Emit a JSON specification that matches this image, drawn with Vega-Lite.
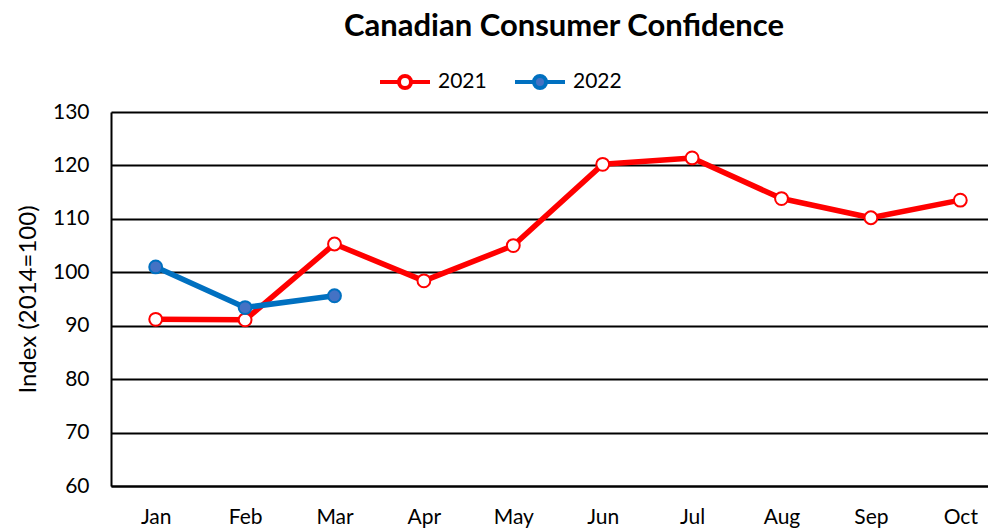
{
  "$schema": "https://vega.github.io/schema/vega-lite/v6.json",
  "width": 894,
  "height": 374,
  "autosize": "none",
  "padding": {"left": 111, "top": 112, "right": 0, "bottom": 45},
  "background": "white",
  "title": {"text": "Canadian Consumer Confidence", "font": "Lato", "fontSize": 31, "fontWeight": "bold", "color": "black", "offset": 12, "dx": 6},
  "data": {"values": [
    {"month": "Jan", "year": "2021", "value": 91.2},
    {"month": "Feb", "year": "2021", "value": 91.1},
    {"month": "Mar", "year": "2021", "value": 105.3},
    {"month": "Apr", "year": "2021", "value": 98.4},
    {"month": "May", "year": "2021", "value": 105.0},
    {"month": "Jun", "year": "2021", "value": 120.2},
    {"month": "Jul", "year": "2021", "value": 121.4},
    {"month": "Aug", "year": "2021", "value": 113.8},
    {"month": "Sep", "year": "2021", "value": 110.2},
    {"month": "Oct", "year": "2021", "value": 113.5},
    {"month": "Jan", "year": "2022", "value": 101.0},
    {"month": "Feb", "year": "2022", "value": 93.4},
    {"month": "Mar", "year": "2022", "value": 95.6}
  ]},
  "encoding": {
    "x": {"field": "month", "type": "ordinal",
      "scale": {"type": "point", "padding": 0.5, "domain": ["Jan","Feb","Mar","Apr","May","Jun","Jul","Aug","Sep","Oct"]},
      "axis": {"title": null, "labelAngle": 0, "ticks": false, "grid": false, "domainColor": "black", "domainWidth": 2, "labelFont": "Lato", "labelFontSize": 21, "labelColor": "black", "labelPadding": 20}},
    "y": {"field": "value", "type": "quantitative",
      "scale": {"domain": [60, 130], "zero": false, "nice": false},
      "axis": {"title": "Index (2014=100)", "titleFont": "Lato", "titleFontSize": 24, "titleFontWeight": "normal", "titleColor": "black", "titlePadding": 12,
        "values": [60,70,80,90,100,110,120,130], "ticks": false, "grid": true, "gridColor": "black", "gridWidth": 1.8, "gridOpacity": 1,
        "domainColor": "black", "domainWidth": 2, "labelFont": "Lato", "labelFontSize": 21, "labelColor": "black", "labelPadding": 22}}
  },
  "layer": [
    {"mark": {"type": "line", "strokeWidth": 5.5, "strokeJoin": "round"},
     "encoding": {"stroke": {"field": "year", "type": "nominal",
        "scale": {"domain": ["2021","2022"], "range": ["#FF0000", "#0070C0"]},
        "legend": {"title": null, "orient": "none", "legendX": 267, "legendY": -57, "direction": "horizontal",
          "symbolType": "M-1,0H-0.24M0.24,0H1M0.24,0A0.24,0.24 0 1,1 -0.24,0A0.24,0.24 0 1,1 0.24,0",
          "symbolSize": 2500, "symbolStrokeWidth": 4, "symbolOpacity": 1,
          "labelFont": "Lato", "labelFontSize": 21, "labelColor": "black", "labelOffset": 6, "columnPadding": 20}}}},
    {"mark": {"type": "point", "filled": false, "size": 165, "strokeWidth": 2, "opacity": 1},
     "encoding": {
       "stroke": {"field": "year", "type": "nominal"},
       "fill": {"field": "year", "type": "nominal", "scale": {"domain": ["2021","2022"], "range": ["white", "#4472C4"]}}}}
  ]
}
